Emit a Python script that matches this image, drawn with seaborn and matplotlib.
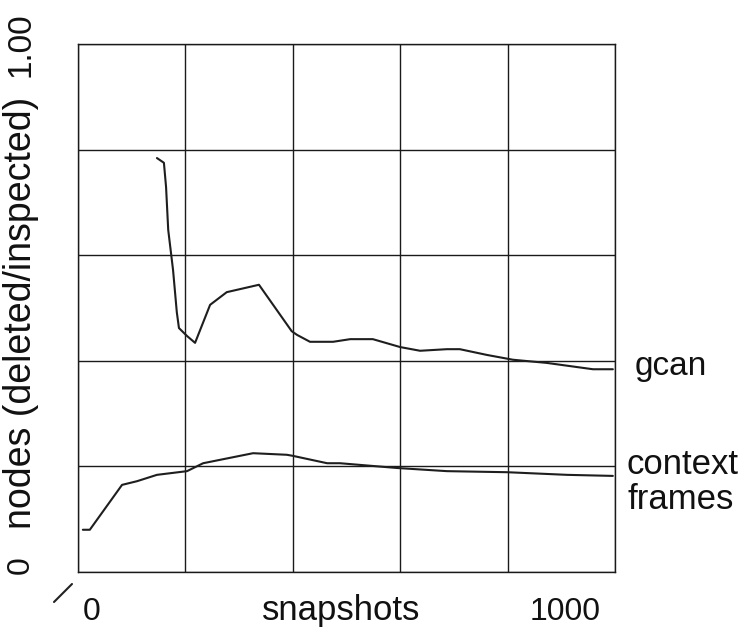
import numpy as np
import pandas as pd
import matplotlib
matplotlib.use("Agg")
import matplotlib.pyplot as plt
import seaborn as sns
from matplotlib.lines import Line2D

# ---- data ----
gcan_x = [147, 160, 164, 168, 177, 184, 188, 203, 218, 246, 277, 337, 398, 408,
          432, 475, 507, 549, 600, 637, 687, 711, 762, 810, 873, 959, 996]
gcan_y = [0.784, 0.775, 0.729, 0.648, 0.572, 0.492, 0.462, 0.447, 0.434, 0.506,
          0.530, 0.544, 0.456, 0.449, 0.436, 0.436, 0.441, 0.441, 0.426, 0.419,
          0.422, 0.422, 0.411, 0.402, 0.396, 0.384, 0.384]

cf_x = [9, 22, 82, 110, 147, 203, 233, 326, 389, 400, 464, 488, 594, 687, 799, 911, 996]
cf_y = [0.080, 0.080, 0.165, 0.172, 0.184, 0.191, 0.206, 0.225, 0.222, 0.220,
        0.206, 0.206, 0.197, 0.191, 0.189, 0.184, 0.182]

series_labels = ["gcan", "context\nframes"]
x_tick_labels = ["0", "1000"]
y_tick_labels = ["0", "1.00"]
x_label = "snapshots"
y_label = "nodes (deleted/inspected)"

df = pd.concat([
    pd.DataFrame({"snapshots": gcan_x, "ratio": gcan_y, "series": "gcan"}),
    pd.DataFrame({"snapshots": cf_x, "ratio": cf_y, "series": "context frames"}),
])

sns.set_style("white")
plt.rcParams["font.family"] = ["Liberation Sans", "DejaVu Sans"]

W, H = 748, 632
fig = plt.figure(figsize=(W / 100, H / 100), dpi=100)
ax = fig.add_axes([78 / W, 1 - 572 / H, (615 - 78) / W, (572 - 44) / H])

sns.lineplot(data=df, x="snapshots", y="ratio", units="series", estimator=None,
             color="#1e1e1e", linewidth=1.5, ax=ax, sort=False, legend=False)

ax.set_xlim(0, 1000)
ax.set_ylim(0, 1.0)
ax.set_xticks(np.arange(0, 1001, 200))
ax.set_yticks(np.arange(0, 1.01, 0.2))
ax.grid(True, color="#1a1a1a", linewidth=1.0)
ax.tick_params(length=0, labelbottom=False, labelleft=False)
ax.set_xlabel("")
ax.set_ylabel("")
for s in ax.spines.values():
    s.set_color("#1a1a1a")
    s.set_linewidth(1.0)


def ftxt(px, py, s, **kw):
    fig.text(px / W, 1 - py / H, s, color="#111111", **kw)


# y axis texts (rotated)
ftxt(21, 565, y_tick_labels[0], rotation=90, ha="center", va="center", fontsize=23)
ftxt(21, 45, y_tick_labels[1], rotation=90, ha="center", va="center", fontsize=24)
ftxt(21, 313, y_label, rotation=90, ha="center", va="center", fontsize=27)

# x axis texts
ftxt(92, 620, x_tick_labels[0], ha="center", va="baseline", fontsize=23)
ftxt(341, 620, x_label, ha="center", va="baseline", fontsize=25)
ftxt(565, 620, x_tick_labels[1], ha="center", va="baseline", fontsize=23)

# series labels at right
ftxt(635, 375, series_labels[0], ha="left", va="baseline", fontsize=24)
ftxt(627, 474, "context", ha="left", va="baseline", fontsize=25)
ftxt(627, 509, "frames", ha="left", va="baseline", fontsize=25)

# small slash mark at lower left
fig.add_artist(Line2D([54 / W, 72 / W], [1 - 602 / H, 1 - 584 / H],
                      color="#222222", linewidth=1.5))

fig.savefig("out.png", dpi=100, facecolor="white")
